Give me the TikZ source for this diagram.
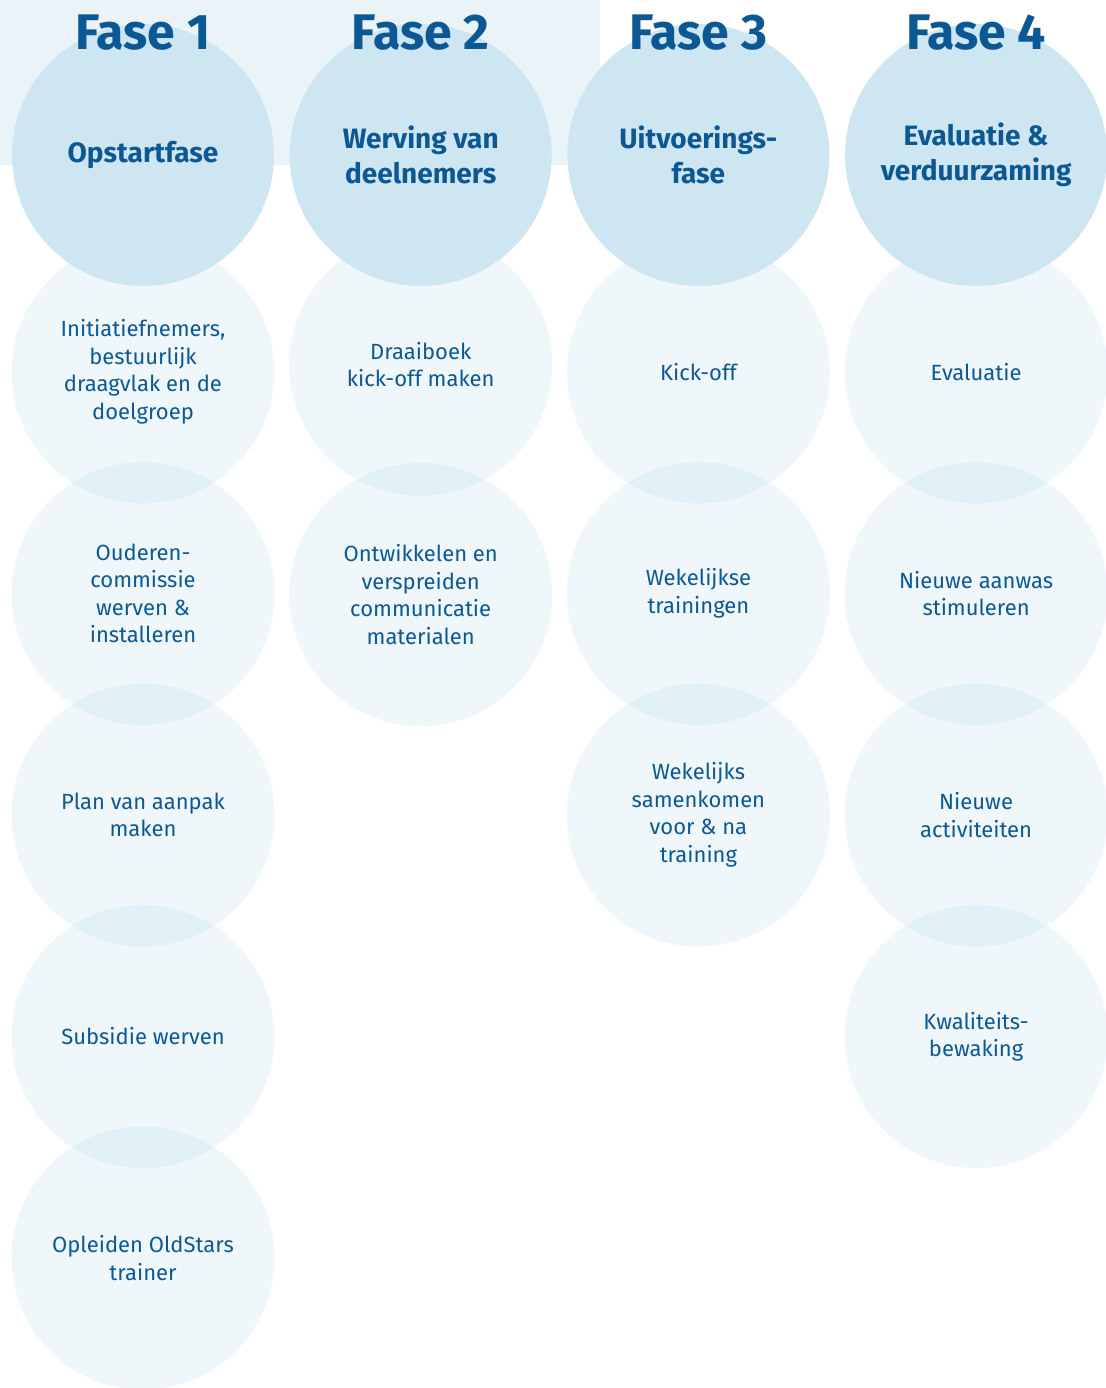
\documentclass[tikz,border=0pt]{standalone}
\usepackage{fontspec}
\setmainfont{Fira Sans}
\usetikzlibrary{positioning,backgrounds}
\definecolor{fasetxt}{HTML}{0B5894}
\definecolor{fasehdr}{HTML}{CEE6F1}
\definecolor{fasebg}{HTML}{EAF4F8}
\definecolor{fasesub}{HTML}{B4DAEA}

\begin{document}
\begin{tikzpicture}[node distance=221.5pt]
\tikzstyle{hdr}=[circle, minimum size=262pt, inner sep=0pt, fill=fasehdr, text=fasetxt, align=center, font=\bfseries\fontsize{28}{35}\selectfont]
\tikzstyle{sub}=[circle, minimum size=263pt, inner sep=0pt, fill=fasesub, fill opacity=0.22, text opacity=1, text=fasetxt, align=center, font=\fontsize{22}{27.5}\selectfont]
\tikzstyle{title}=[text=fasetxt, font=\bfseries\fontsize{50}{50}\selectfont]
\useasboundingbox (0,0) rectangle (1105pt,-1388pt);

\node (h1) [hdr] at (143pt,-155pt) {Opstartfase};
\node (h2) [hdr, right of=h1, node distance=277.7pt] {Werving van\\deelnemers};
\node (h3) [hdr, right of=h2, node distance=277.7pt] {Uitvoerings-\\fase};
\node (h4) [hdr, right of=h3, node distance=277.7pt] {Evaluatie \&\\verduurzaming};

\node (t1) [title, above of=h1, node distance=122pt] {Fase 1};
\node (t2) [title, above of=h2, node distance=122pt] {Fase 2};
\node (t3) [title, above of=h3, node distance=122pt] {Fase 3};
\node (t4) [title, above of=h4, node distance=122pt] {Fase 4};

\begin{pgfonlayer}{background}
\fill[fasebg] (0,0) rectangle (600pt,-165pt);
% fase 1
\node (s11) [sub, below of=h1, node distance=217pt] {Initiatiefnemers,\\bestuurlijk\\draagvlak en de\\doelgroep};
\node (s12) [sub, below of=s11] {Ouderen-\\commissie\\werven \&\\installeren};
\node (s13) [sub, below of=s12] {Plan van aanpak\\maken};
\node (s14) [sub, below of=s13] {Subsidie werven};
\node (s15) [sub, below of=s14] {Opleiden OldStars\\trainer};
% fase 2
\node (s21) [sub, below of=h2, node distance=209.5pt] {Draaiboek\\kick-off maken};
\node (s22) [sub, below of=s21, node distance=230pt] {Ontwikkelen en\\verspreiden\\communicatie\\materialen};
% fase 3
\node (s31) [sub, below of=h3, node distance=217pt] {Kick-off};
\node (s32) [sub, below of=s31] {Wekelijkse\\trainingen};
\node (s33) [sub, below of=s32] {Wekelijks\\samenkomen\\voor \& na\\training};
% fase 4
\node (s41) [sub, below of=h4, node distance=217pt] {Evaluatie};
\node (s42) [sub, below of=s41] {Nieuwe aanwas\\stimuleren};
\node (s43) [sub, below of=s42] {Nieuwe\\activiteiten};
\node (s44) [sub, below of=s43] {Kwaliteits-\\bewaking};
\end{pgfonlayer}
\end{tikzpicture}
\end{document}
